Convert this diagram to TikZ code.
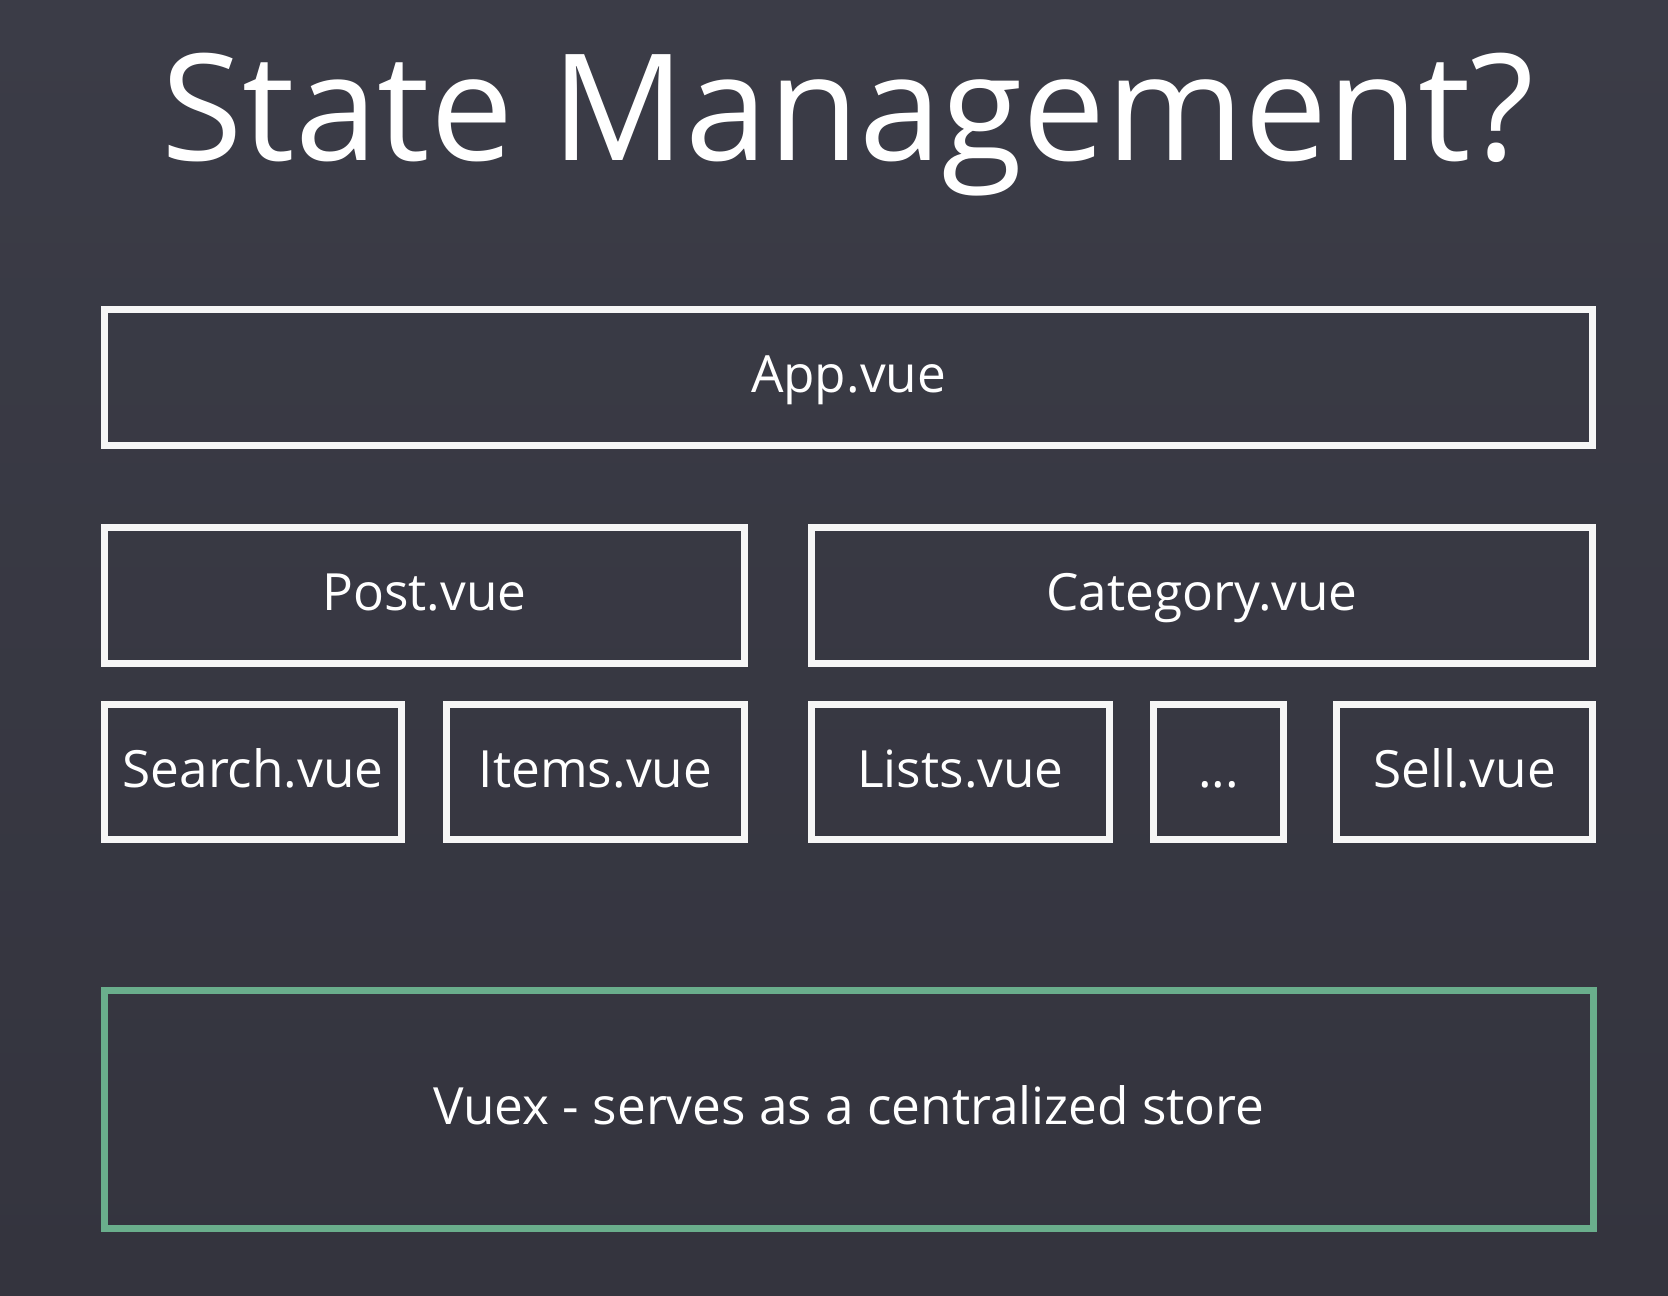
\documentclass[tikz,border=0pt]{standalone}
\usepackage{fontspec}
\setmainfont{Open Sans}
\usepackage{tikz}
\usetikzlibrary{positioning}
\definecolor{sfondoalto}{RGB}{59,60,71}
\definecolor{sfondobasso}{RGB}{52,52,62}
\definecolor{bianco}{RGB}{246,246,246}
\definecolor{verde}{RGB}{106,174,140}
\tikzset{
node distance=0.5cm,
titolo/.style={text=white,font=\fontsize{42.2}{46}\selectfont,inner sep=0pt,anchor=base},
componente/.style={draw=bianco,line width=0.07cm,text=white,font=\fontsize{14.6}{17}\selectfont,
  inner sep=0pt,text height=0.45cm,text depth=0.15cm,minimum height=1.36cm},
figlio/.style={componente,minimum height=1.35cm},
deposito/.style={componente,draw=verde,minimum height=2.38cm}}
\begin{document}
\begin{tikzpicture}

\useasboundingbox[top color=sfondoalto,bottom color=sfondobasso] (0,0) rectangle (16.68,-12.96);

\node[titolo] (titolo) at (8.48,-1.60) {State Management?};

\node[componente,minimum width=14.88cm] (app) at (8.485,-3.775) {App.vue};
\node[componente,minimum width=6.40cm] (post) [below right=0.75cm and 0cm of app.south west] {Post.vue};
\node[componente,minimum width=7.81cm] (categoria) [right=0.60cm of post] {Category.vue};

\node[figlio,minimum width=2.97cm] (search) [below right=0.34cm and 0cm of post.south west] {Search.vue};
\node[figlio,minimum width=2.98cm] (items) [right=0.38cm of search] {Items.vue};
\node[figlio,minimum width=2.98cm] (lists) [below right=0.34cm and 0cm of categoria.south west] {Lists.vue};
\node[figlio,minimum width=1.30cm] (altri) [right=0.37cm of lists] {...};
\node[figlio,minimum width=2.56cm] (sell) [right=0.46cm of altri] {Sell.vue};

\node[deposito,minimum width=14.89cm] (vuex) [below right=1.44cm and 0cm of search.south west] {Vuex - serves as a centralized store};

\end{tikzpicture}
\end{document}
